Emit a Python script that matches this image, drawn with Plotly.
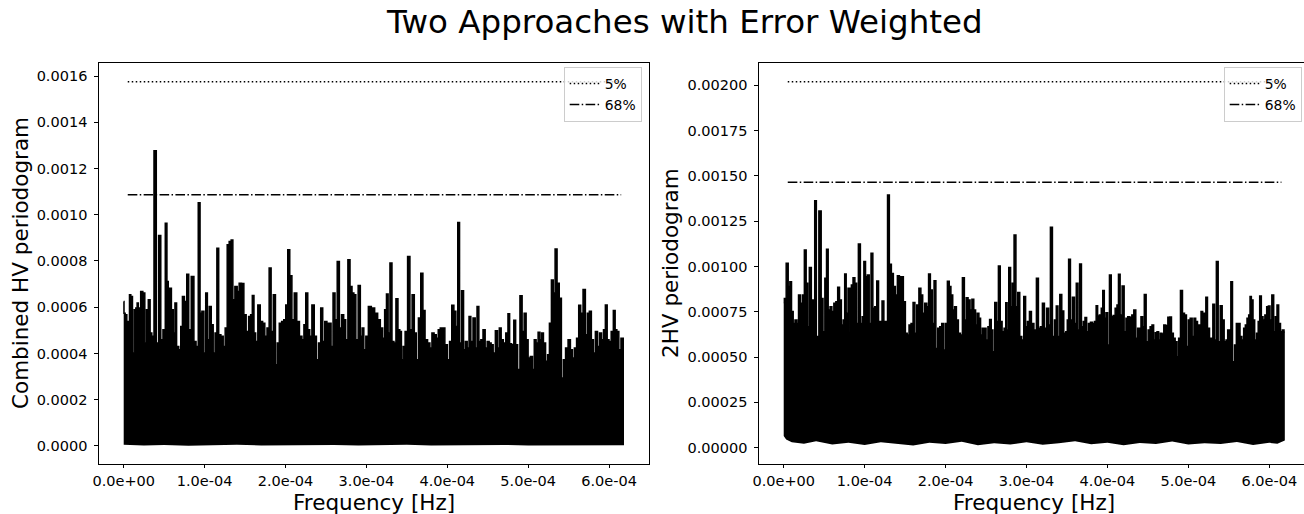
import numpy as np
import plotly.graph_objects as go

# ---------------------------------------------------------------------------
# Periodogram profiles (frequency in units of 1e-4 Hz, power in units of 1e-4)
# ---------------------------------------------------------------------------
combined_freq = [
    0.000, 0.008, 0.028, 0.049, 0.065, 0.078, 0.098, 0.119, 0.140, 0.160,
    0.172, 0.189, 0.198, 0.222, 0.251, 0.271, 0.292, 0.316, 0.337, 0.358,
    0.391, 0.415, 0.448, 0.469, 0.502, 0.526, 0.543, 0.559, 0.580, 0.600,
    0.625, 0.642, 0.666, 0.695, 0.716, 0.736, 0.765, 0.794, 0.814, 0.856,
    0.880, 0.909, 0.934, 0.954, 0.979, 1.004, 1.024, 1.045, 1.070, 1.094,
    1.119, 1.140, 1.164, 1.185, 1.218, 1.242, 1.267, 1.292, 1.316, 1.341,
    1.358, 1.391, 1.415, 1.440, 1.473, 1.498, 1.530, 1.559, 1.580, 1.600,
    1.621, 1.642, 1.674, 1.703, 1.732, 1.757, 1.786, 1.810, 1.835, 1.864,
    1.888, 1.909, 1.938, 1.967, 1.991, 2.016, 2.041, 2.065, 2.094, 2.123,
    2.156, 2.189, 2.218, 2.238, 2.263, 2.288, 2.312, 2.341, 2.370, 2.395,
    2.423, 2.448, 2.473, 2.498, 2.526, 2.551, 2.576, 2.600, 2.625, 2.654,
    2.679, 2.707, 2.732, 2.757, 2.786, 2.810, 2.835, 2.856, 2.884, 2.913,
    2.938, 2.958, 2.979, 3.008, 3.041, 3.082,
    3.123, 3.156, 3.189, 3.214, 3.238, 3.259, 3.279, 3.304, 3.329, 3.353,
    3.378, 3.403, 3.423, 3.444, 3.465, 3.493, 3.526, 3.551, 3.580, 3.605,
    3.629, 3.658, 3.687, 3.711, 3.740, 3.773, 3.798, 3.823, 3.851, 3.876,
    3.901, 3.926, 3.954, 3.987, 4.016, 4.041, 4.070, 4.094, 4.119, 4.140,
    4.164, 4.189, 4.214, 4.234, 4.259, 4.279, 4.304, 4.333, 4.358, 4.378,
    4.403, 4.428, 4.456, 4.481, 4.506, 4.530, 4.555, 4.580, 4.609, 4.633,
    4.654, 4.679, 4.707, 4.740, 4.761, 4.781, 4.810, 4.835, 4.856, 4.884,
    4.913, 4.938, 4.963, 4.987, 5.012, 5.041, 5.065, 5.086, 5.111, 5.135,
    5.156, 5.177, 5.201, 5.230, 5.251, 5.275, 5.300, 5.321, 5.345, 5.370,
    5.399, 5.423, 5.448, 5.477, 5.510, 5.535, 5.559, 5.584, 5.613, 5.637,
    5.662, 5.695, 5.720, 5.744, 5.769, 5.794, 5.819, 5.843, 5.872, 5.893,
    5.921, 5.942, 5.967, 5.987, 6.012, 6.041, 6.065, 6.086, 6.107, 6.135,
    6.160, 6.185,
]
combined_power = [
    6.25, 5.74, 5.67, 5.38, 4.23, 6.54, 6.46, 4.02, 5.89, 5.96,
    6.18, 5.96, 5.53, 6.68, 6.61, 4.45, 5.89, 6.32, 4.88, 4.74,
    12.77, 4.45, 9.10, 4.59, 5.02, 9.63, 7.11, 6.32, 6.82, 5.89,
    4.88, 6.18, 4.30, 4.16, 5.17, 6.46, 6.25, 7.43, 5.02, 7.33,
    4.52, 4.30, 10.52, 5.74, 5.82, 4.02, 6.61, 4.59, 6.03, 5.24,
    4.02, 4.88, 8.55, 4.81, 4.74, 4.30, 5.10, 8.70, 8.84, 8.91,
    6.32, 6.90, 6.68, 7.04, 7.03, 5.67, 4.95, 5.60, 5.67, 6.51,
    4.88, 4.52, 6.10, 5.38, 5.31, 4.74, 5.10, 7.69, 4.95, 6.54,
    3.51, 4.45, 5.31, 5.38, 5.46, 6.10, 8.48, 7.36, 5.46, 6.61,
    5.38, 4.74, 4.59, 5.24, 6.61, 5.02, 4.74, 6.10, 4.74, 3.73,
    4.45, 5.96, 4.52, 5.38, 5.31, 5.31, 4.30, 6.61, 5.46, 7.98,
    5.10, 5.67, 5.46, 4.59, 8.05, 6.90, 6.61, 6.54, 4.59, 6.94,
    4.74, 5.10, 4.16, 4.74, 6.03, 5.96,
    5.74, 5.46, 5.10, 4.66, 5.89, 6.57, 4.88, 7.91, 4.52, 4.45,
    6.36, 5.02, 4.95, 3.73, 4.30, 4.95, 8.19, 5.02, 6.54, 4.88,
    3.73, 5.53, 7.47, 5.86, 4.59, 4.45, 4.23, 4.88, 4.81, 4.66,
    5.02, 5.10, 5.10, 4.38, 3.73, 4.52, 6.08, 5.82, 5.17, 9.66,
    4.45, 6.71, 4.16, 4.52, 4.23, 5.60, 4.52, 5.53, 4.23, 6.03,
    4.52, 4.59, 5.02, 4.23, 4.52, 4.45, 4.38, 4.02, 4.98, 4.23,
    5.10, 4.59, 4.45, 4.88, 5.72, 4.42, 4.38, 5.43, 4.38, 3.30,
    6.49, 4.95, 5.74, 4.59, 3.80, 3.87, 3.30, 4.59, 4.45, 4.92,
    4.59, 4.88, 4.45, 3.66, 3.94, 5.31, 7.18, 6.61, 8.52, 7.04,
    6.39, 2.94, 3.73, 4.23, 4.59, 4.16, 3.80, 4.23, 4.66, 6.08,
    5.74, 6.77, 4.81, 5.74, 5.82, 4.59, 4.02, 4.95, 4.30, 4.88,
    4.59, 5.02, 6.10, 4.59, 4.52, 4.95, 5.86, 5.02, 4.95, 4.16,
    4.66, 4.66,
]
combined_floor_freq = [0.0, 0.25, 0.5, 0.8, 1.1, 1.4, 1.7, 2.0, 2.3, 2.6, 2.9,
                       3.2, 3.5, 3.8, 4.1, 4.4, 4.7, 5.0, 5.3, 5.6, 5.9, 6.185]
combined_floor_power = [0.05, 0.02, 0.04, 0.01, 0.03, 0.05, 0.02, 0.03, 0.01, 0.04, 0.02,
                        0.03, 0.05, 0.02, 0.03, 0.01, 0.04, 0.02, 0.03, 0.02, 0.04, 0.03]

twohv_freq = [
    0.000, 0.016, 0.045, 0.066, 0.086, 0.107, 0.127, 0.152, 0.173, 0.193,
    0.218, 0.243, 0.267, 0.288, 0.304, 0.329, 0.354, 0.375, 0.391, 0.416,
    0.453, 0.473, 0.498, 0.519, 0.539, 0.560, 0.585, 0.605, 0.634, 0.655,
    0.679, 0.700, 0.725, 0.745, 0.762, 0.782, 0.807, 0.828, 0.844, 0.869,
    0.890, 0.910, 0.935, 0.960, 0.980, 1.001, 1.021, 1.046, 1.067, 1.091,
    1.112, 1.137, 1.162, 1.182, 1.203, 1.227, 1.248, 1.273, 1.293, 1.318,
    1.343, 1.367, 1.392, 1.417, 1.442, 1.466, 1.491, 1.516, 1.536, 1.561,
    1.586, 1.611, 1.631, 1.656, 1.685, 1.705, 1.730, 1.755, 1.780, 1.800,
    1.825, 1.846, 1.870, 1.891, 1.916, 1.940, 1.965, 1.986, 2.010, 2.035,
    2.056, 2.076, 2.101, 2.122, 2.146, 2.171, 2.196, 2.220, 2.245, 2.266,
    2.290, 2.315, 2.336, 2.361, 2.381, 2.402, 2.422, 2.443, 2.464, 2.488,
    2.513, 2.534, 2.554, 2.575, 2.595, 2.620, 2.641, 2.665, 2.686, 2.711,
    2.735, 2.752, 2.768, 2.793, 2.814, 2.834, 2.859, 2.880, 2.904, 2.929,
    2.954, 2.979, 2.999, 3.024, 3.049, 3.073,
    3.110, 3.135, 3.160, 3.184, 3.209, 3.234, 3.263, 3.283, 3.308, 3.333,
    3.358, 3.378, 3.399, 3.424, 3.448, 3.473, 3.498, 3.510, 3.531, 3.555,
    3.580, 3.605, 3.625, 3.646, 3.667, 3.691, 3.712, 3.733, 3.753, 3.778,
    3.803, 3.827, 3.852, 3.869, 3.889, 3.914, 3.934, 3.951, 3.972, 3.992,
    4.013, 4.037, 4.058, 4.083, 4.108, 4.128, 4.145, 4.169, 4.194, 4.219,
    4.239, 4.264, 4.289, 4.314, 4.338, 4.363, 4.384, 4.404, 4.425, 4.445,
    4.466, 4.491, 4.515, 4.540, 4.561, 4.581, 4.602, 4.623, 4.643, 4.664,
    4.684, 4.709, 4.734, 4.759, 4.779, 4.804, 4.825, 4.849, 4.870, 4.890,
    4.915, 4.940, 4.964, 4.989, 5.010, 5.035, 5.059, 5.080, 5.101, 5.125,
    5.146, 5.167, 5.187, 5.208, 5.224, 5.249, 5.274, 5.294, 5.311, 5.336,
    5.356, 5.381, 5.406, 5.430, 5.455, 5.476, 5.496, 5.517, 5.533, 5.558,
    5.583, 5.603, 5.628, 5.649, 5.673, 5.694, 5.714, 5.735, 5.756, 5.768,
    5.789, 5.809, 5.830, 5.855, 5.871, 5.892, 5.912, 5.933, 5.958, 5.978,
    5.999, 6.019, 6.044, 6.065, 6.085, 6.106, 6.126, 6.151, 6.172, 6.192,
]
twohv_power = [
    8.02, 8.24, 10.18, 8.89, 9.16, 7.51, 6.86, 7.05, 6.86, 8.43,
    7.97, 8.43, 10.91, 9.07, 6.68, 9.95, 8.15, 6.77, 13.63, 6.13,
    13.06, 8.24, 6.40, 9.35, 10.95, 7.60, 7.78, 7.51, 7.97, 8.06,
    8.85, 8.15, 6.77, 7.05, 9.59, 7.42, 8.80, 6.40, 8.98, 9.38,
    9.07, 6.86, 11.24, 6.86, 7.23, 10.27, 9.44, 9.53, 6.86, 10.73,
    7.69, 7.78, 9.20, 6.96, 6.96, 8.10, 6.96, 6.96, 13.95, 10.12,
    9.62, 8.89, 8.43, 9.49, 9.44, 9.44, 8.06, 6.31, 6.22, 6.77,
    6.86, 8.02, 6.31, 7.88, 8.80, 8.43, 7.42, 7.97, 7.78, 9.59,
    8.70, 6.86, 9.22, 5.48, 6.59, 6.68, 6.86, 5.39, 6.86, 9.18,
    8.89, 8.43, 7.60, 7.78, 7.05, 6.31, 6.22, 9.38, 7.05, 8.28,
    8.15, 7.60, 8.19, 7.60, 6.77, 7.42, 7.14, 6.22, 6.59, 6.59,
    5.94, 6.68, 7.08, 6.50, 5.30, 8.02, 6.96, 10.03, 6.96, 6.40,
    6.59, 8.00, 6.50, 9.95, 7.78, 9.07, 11.74, 7.78, 8.56, 6.13,
    5.94, 8.34, 6.68, 6.96, 7.51, 6.86,
    6.50, 9.35, 6.59, 6.68, 7.97, 6.59, 7.69, 6.77, 12.16, 6.13,
    7.05, 7.82, 6.13, 8.46, 7.54, 6.31, 6.40, 7.05, 10.40, 7.05,
    8.30, 6.86, 9.07, 6.50, 10.14, 6.68, 6.96, 7.18, 6.40, 6.86,
    6.92, 6.86, 6.96, 7.84, 7.27, 7.32, 7.69, 8.67, 7.14, 7.45,
    5.67, 9.53, 7.23, 7.29, 7.69, 7.88, 9.57, 7.32, 8.92, 6.40,
    7.14, 7.23, 7.18, 7.32, 7.60, 6.04, 6.59, 6.59, 7.23, 6.68,
    8.46, 5.85, 6.50, 6.68, 6.77, 5.94, 6.35, 6.40, 5.94, 6.31,
    6.28, 6.77, 6.73, 7.20, 7.21, 6.31, 6.04, 5.85, 5.02, 6.04,
    8.67, 7.42, 7.32, 5.58, 7.05, 7.14, 6.13, 7.14, 6.96, 6.77,
    6.77, 7.51, 7.42, 6.90, 8.30, 6.59, 6.04, 5.76, 7.91, 5.94,
    10.27, 5.85, 7.84, 7.05, 5.85, 5.94, 6.50, 6.40, 9.16, 4.75,
    5.67, 6.86, 6.86, 6.13, 5.94, 6.59, 6.77, 7.14, 7.32, 8.34,
    8.15, 7.05, 5.94, 6.31, 6.96, 8.37, 7.23, 7.05, 7.32, 7.78,
    7.82, 7.05, 8.43, 6.40, 7.23, 7.88, 6.86, 6.40, 6.50, 6.40,
]
twohv_floor_freq = [0.0, 0.03, 0.1, 0.25, 0.4, 0.6, 0.8, 1.0, 1.2, 1.4, 1.6, 1.8,
                    2.0, 2.2, 2.4, 2.6, 2.8, 3.0, 3.2, 3.4, 3.6, 3.8, 4.0, 4.2,
                    4.4, 4.6, 4.8, 5.0, 5.2, 5.4, 5.6, 5.8, 6.0, 6.1, 6.192]
twohv_floor_power = [0.65, 0.45, 0.30, 0.22, 0.35, 0.18, 0.28, 0.15, 0.30, 0.22, 0.12, 0.27,
                     0.20, 0.33, 0.14, 0.25, 0.18, 0.30, 0.16, 0.24, 0.35, 0.19, 0.28, 0.13,
                     0.26, 0.21, 0.34, 0.17, 0.25, 0.20, 0.31, 0.15, 0.27, 0.22, 0.40]

# Significance levels (power, 1e-4 units) and the frequency span they cover
level_names = ["5%", "68%"]
combined_levels = [15.75, 10.86]
twohv_levels = [20.20, 14.65]
level_span = [0.05, 6.15]

freq_ticks = [0, 1, 2, 3, 4, 5, 6]
freq_tick_text = ["0.0e+00", "1.0e-04", "2.0e-04", "3.0e-04",
                  "4.0e-04", "5.0e-04", "6.0e-04"]

for a, b in [(combined_freq, combined_power), (twohv_freq, twohv_power),
             (combined_floor_freq, combined_floor_power),
             (twohv_floor_freq, twohv_floor_power)]:
    assert len(a) == len(b), (len(a), len(b))

UNIT = 1e-4
FONT = "DejaVu Sans"
W, H = 1304, 514
level_dash = ["1.5px,2.5px", "9.6px,2.4px,1.5px,2.4px"]

fig = go.Figure()


def add_panel(xa, ya, legend, freq, power, floor_f, floor_p, levels):
    # lower edge of the periodogram band
    fig.add_trace(go.Scatter(
        x=np.array(floor_f) * UNIT, y=np.array(floor_p) * UNIT,
        mode="lines", line=dict(color="black", width=0),
        xaxis=xa, yaxis=ya, showlegend=False, hoverinfo="skip"))
    # upper edge, stepped so every sample reads as a narrow spike
    fig.add_trace(go.Scatter(
        x=np.array(freq) * UNIT, y=np.array(power) * UNIT,
        mode="lines", line=dict(color="black", width=1.5, shape="hvh"),
        fill="tonexty", fillcolor="black",
        xaxis=xa, yaxis=ya, showlegend=False, hoverinfo="skip"))
    for name, lev, dash in zip(level_names, levels, level_dash):
        fig.add_trace(go.Scatter(
            x=np.array(level_span) * UNIT, y=[lev * UNIT, lev * UNIT],
            mode="lines", name=name,
            line=dict(color="black", width=1.5, dash=dash),
            xaxis=xa, yaxis=ya, legend=legend))


add_panel("x", "y", "legend", combined_freq, combined_power,
          combined_floor_freq, combined_floor_power, combined_levels)
add_panel("x2", "y2", "legend2", twohv_freq, twohv_power,
          twohv_floor_freq, twohv_floor_power, twohv_levels)

tickfont = dict(family=FONT, size=14.5, color="black")
common_axis = dict(showline=True, linecolor="black", linewidth=0.8,
                   ticks="outside", ticklen=3.5, tickwidth=0.8, tickcolor="black",
                   showgrid=False, zeroline=False, tickfont=tickfont)

y_domain = [1 - 463.7 / H, 1 - 63.3 / H]
legend_style = dict(xanchor="right", yanchor="top", traceorder="normal",
                    bordercolor="#cccccc", borderwidth=1,
                    bgcolor="rgba(255,255,255,0.8)",
                    font=dict(family=FONT, size=13.9, color="black"))

fig.update_layout(
    width=W, height=H,
    margin=dict(l=0, r=0, t=0, b=0, autoexpand=False),
    paper_bgcolor="white", plot_bgcolor="white",
    font=dict(family=FONT, color="black"),
    xaxis=dict(domain=[98.7 / W, 649.0 / W], range=[-0.309 * UNIT, 6.494 * UNIT],
               tickvals=[t * UNIT for t in freq_ticks], ticktext=freq_tick_text,
               mirror=True, anchor="y", **common_axis),
    yaxis=dict(domain=y_domain, range=[-0.000077, 0.001655],
               tick0=0, dtick=0.0002, tickformat=".4f", ticklabelstandoff=4,
               mirror=True, anchor="x", **common_axis),
    xaxis2=dict(domain=[758.7 / W, 1.0], range=[-0.309 * UNIT, 6.429 * UNIT],
                tickvals=[t * UNIT for t in freq_ticks], ticktext=freq_tick_text,
                mirror=True, anchor="y2", **common_axis),
    yaxis2=dict(domain=y_domain, range=[-0.0000883, 0.0021214],
                tick0=0, dtick=0.00025, tickformat=".5f", ticklabelstandoff=4,
                mirror=False, anchor="x2", **common_axis),
    legend=dict(x=641.7 / W, y=1 - 67.0 / H, **legend_style),
    legend2=dict(x=1301.7 / W, y=1 - 67.0 / H, **legend_style),
    showlegend=True,
)

label_font = dict(family=FONT, size=21.5, color="black")
fig.add_annotation(text="Two Approaches with Error Weighted", x=684 / W, y=1 - 22 / H,
                   xref="paper", yref="paper", showarrow=False,
                   xanchor="center", yanchor="middle",
                   font=dict(family=FONT, size=32.5, color="black"))
fig.add_annotation(text="Frequency [Hz]", x=373.9 / W, y=1 - 502 / H,
                   xref="paper", yref="paper", showarrow=False,
                   xanchor="center", yanchor="middle", font=label_font)
fig.add_annotation(text="Frequency [Hz]", x=1033.9 / W, y=1 - 502 / H,
                   xref="paper", yref="paper", showarrow=False,
                   xanchor="center", yanchor="middle", font=label_font)
fig.add_annotation(text="Combined HV periodogram", x=20.5 / W, y=1 - 263.5 / H,
                   xref="paper", yref="paper", showarrow=False, textangle=-90,
                   xanchor="center", yanchor="middle", font=label_font)
fig.add_annotation(text="2HV periodogram", x=670.5 / W, y=1 - 263.5 / H,
                   xref="paper", yref="paper", showarrow=False, textangle=-90,
                   xanchor="center", yanchor="middle", font=label_font)

fig.write_html("out.html")
